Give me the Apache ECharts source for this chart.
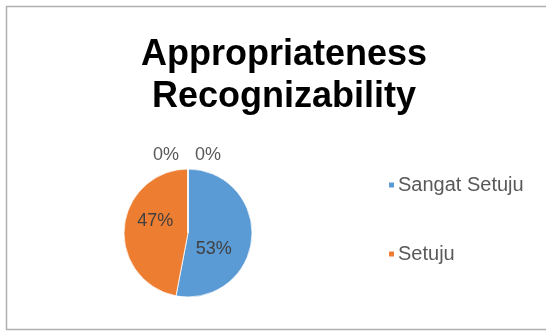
<!DOCTYPE html>
<html>
<head>
<meta charset="utf-8">
<script src="https://cdn.jsdelivr.net/npm/echarts@6/dist/echarts.min.js"></script>
<style>
  html, body { margin: 0; padding: 0; background: #fff; }
  #chart { width: 546px; height: 331px; }
</style>
</head>
<body>
<div id="chart"></div>
<script>
// Survey answers for "Appropriateness Recognizability"
const categories = ['Sangat Setuju', 'Setuju', 'Tidak Setuju', 'Sangat Tidak Setuju'];
const values = [53, 47, 0, 0];
const colors = ['#5B9BD5', '#ED7D31', '#A5A5A5', '#FFC000'];
const legendItems = ['Sangat Setuju', 'Setuju'];
// nudges for the percentage labels, one per slice
const labelOffsets = [[-9, 13], [2, -9], [-22, -43], [20, -43]];

const chart = echarts.init(document.getElementById('chart'), null, { renderer: 'canvas' });

chart.setOption({
  animation: false,
  backgroundColor: '#ffffff',
  title: {
    text: 'Appropriateness\nRecognizability',
    left: 279,
    textAlign: 'center',
    top: 29,
    textStyle: {
      fontFamily: 'Liberation Sans',
      fontWeight: 'bold',
      fontSize: 36,
      lineHeight: 42,
      color: '#000000'
    }
  },
  legend: {
    data: legendItems,
    orient: 'vertical',
    left: 382,
    top: 170,
    icon: 'rect',
    itemWidth: 7,
    itemHeight: 7,
    itemGap: 49,
    textStyle: {
      fontFamily: 'Liberation Sans',
      fontSize: 20,
      color: '#595959',
      padding: [0, 0, 0, -2]
    }
  },
  graphic: [{
    type: 'rect',
    shape: { x: 6.5, y: 6.5, width: 560, height: 323 },
    style: { fill: 'none', stroke: '#b0b0b0', lineWidth: 1.5 },
    silent: true
  }],
  series: [{
    type: 'pie',
    center: [188, 233],
    radius: [0, 64],
    startAngle: 90,
    clockwise: true,
    percentPrecision: 0,
    avoidLabelOverlap: false,
    minShowLabelAngle: 0,
    itemStyle: { borderColor: '#ffffff', borderWidth: 0.75 },
    label: {
      show: true,
      position: 'inside',
      formatter: '{d}%',
      fontFamily: 'Liberation Sans',
      fontSize: 18,
      color: '#404040'
    },
    labelLine: { show: false },
    data: categories.map((name, i) => ({
      name: name,
      value: values[i],
      itemStyle: { color: colors[i] },
      label: {
        offset: labelOffsets[i],
        color: values[i] === 0 ? '#595959' : '#404040'
      }
    }))
  }]
});
</script>
</body>
</html>
